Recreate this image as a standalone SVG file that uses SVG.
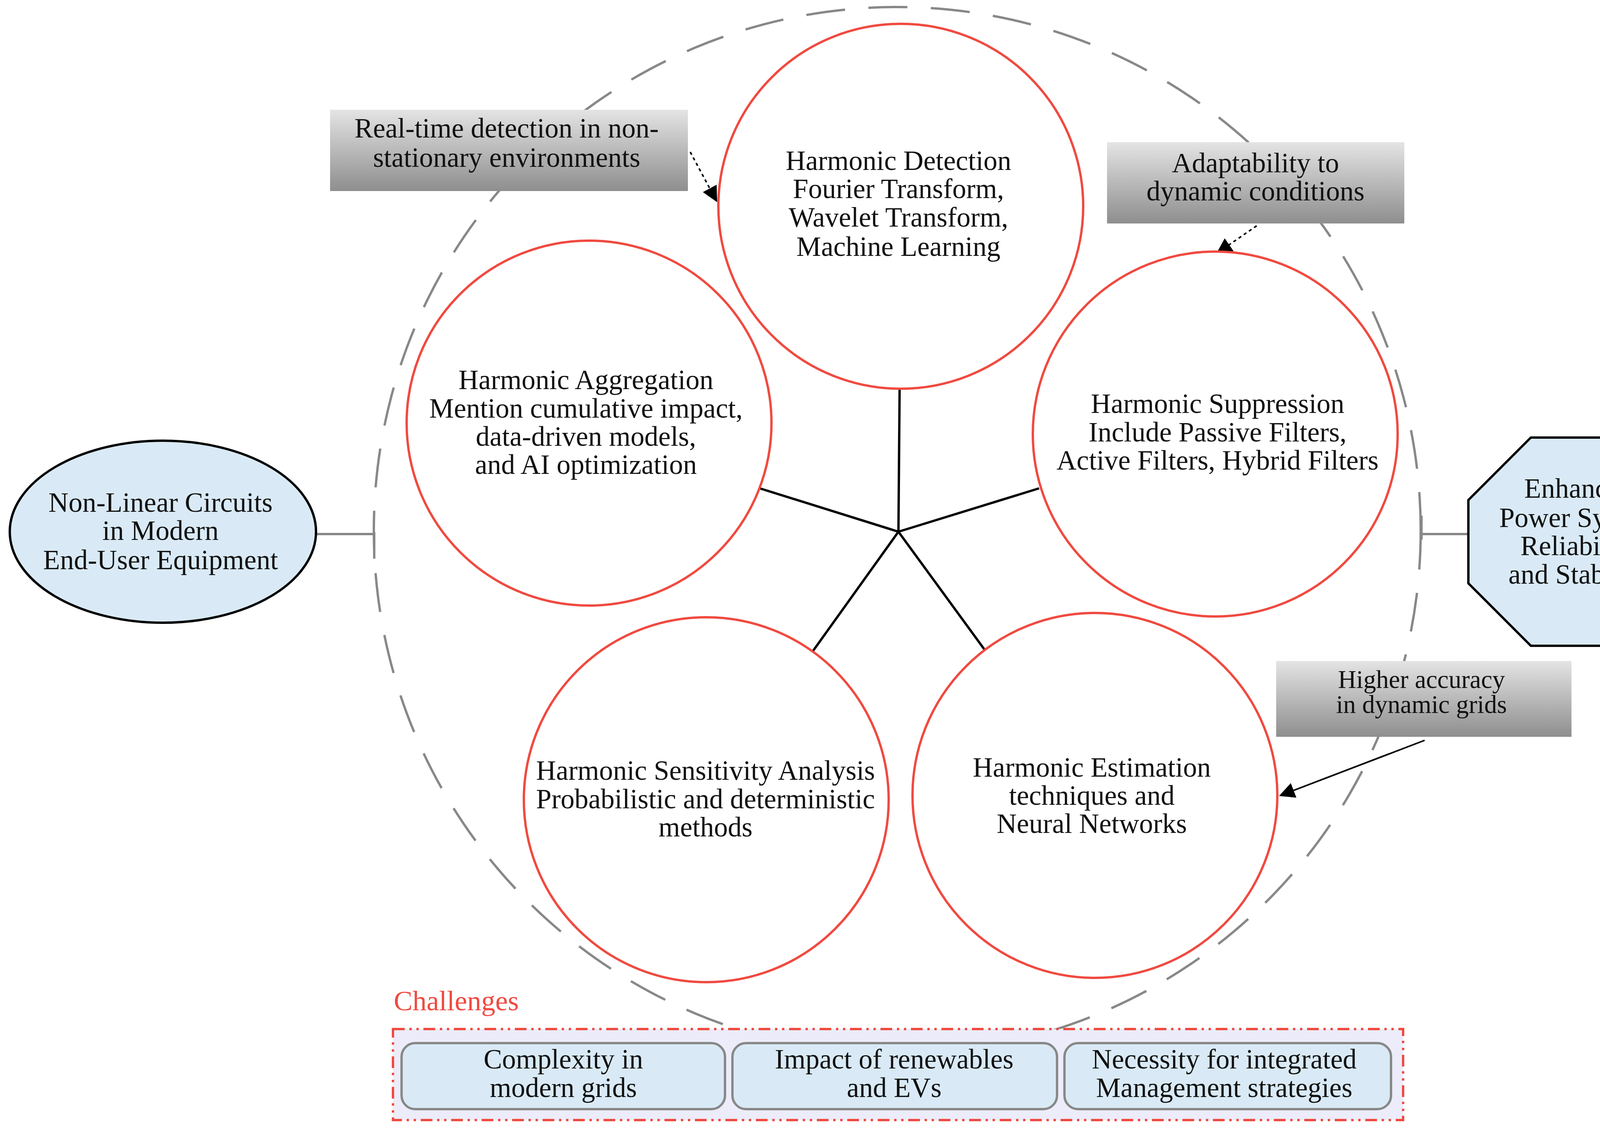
<svg xmlns="http://www.w3.org/2000/svg" width="4357" height="2895" viewBox="0 0 4357 2895">
<defs>
<linearGradient id="g" x1="0" y1="0" x2="0" y2="1"><stop offset="0" stop-color="#e4e4e4"/><stop offset="1" stop-color="#8e8e8e"/></linearGradient>
<marker id="ah" viewBox="0 0 10 10" refX="9" refY="5" markerWidth="45" markerHeight="40" orient="auto" markerUnits="userSpaceOnUse"><path d="M0,0 L10,5 L0,10 z" fill="#000"/></marker>
</defs>
<style>
text{font-family:"Liberation Serif","DejaVu Serif",serif;font-size:71px;fill:#111;text-anchor:middle;dominant-baseline:central}
.c{fill:#fff;stroke:#f04a40;stroke-width:6}
.gb{fill:url(#g)}
.blue{fill:#d9eaf6}
.cb{fill:#d9eaf6;stroke:#888;stroke-width:6}
</style>
<rect width="4357" height="2895" fill="#fff"/>
<circle cx="2297" cy="1358" r="1340" fill="none" stroke="#888" stroke-width="6" stroke-dasharray="100 60"/>
<g id="connectors" stroke="#000" stroke-width="6" fill="none">
<line x1="2300" y1="1361" x2="2303" y2="995"/>
<line x1="2300" y1="1361" x2="1945" y2="1250"/>
<line x1="2300" y1="1361" x2="2660" y2="1250"/>
<line x1="2300" y1="1361" x2="2080" y2="1668"/>
<line x1="2300" y1="1361" x2="2522" y2="1665"/>
<path d="M811,1367 H958 M958,1362 V1430" stroke="#888"/>
<path d="M3639,1367 H3759 M3639,1320 V1381" stroke="#888"/>
<line x1="1767" y1="389" x2="1834" y2="514" stroke-width="4" stroke-dasharray="8 8" marker-end="url(#ah)"/>
<line x1="3217" y1="578" x2="3117" y2="647" stroke-width="4" stroke-dasharray="8 8" marker-end="url(#ah)"/>
<line x1="3647" y1="1895" x2="3278" y2="2036" stroke-width="4" marker-end="url(#ah)"/>
</g>
<g id="detection"><circle class="c" cx="2306" cy="528" r="467"/><text x="2300" y="411">Harmonic Detection</text><text x="2300" y="483">Fourier Transform,</text><text x="2300" y="556">Wavelet Transform,</text><text x="2300" y="631">Machine Learning</text></g>
<g id="aggregation"><circle class="c" cx="1508" cy="1083" r="467"/><text x="1500" y="972">Harmonic Aggregation</text><text x="1500" y="1045">Mention cumulative impact,</text><text x="1500" y="1117">data-driven models,</text><text x="1500" y="1189">and AI optimization</text></g>
<g id="suppression"><circle class="c" cx="3111" cy="1111" r="467"/><text x="3117" y="1033">Harmonic Suppression</text><text x="3117" y="1106">Include Passive Filters,</text><text x="3117" y="1178">Active Filters, Hybrid Filters</text></g>
<g id="sensitivity"><circle class="c" cx="1808" cy="2047" r="467"/><text x="1806" y="1972">Harmonic Sensitivity Analysis</text><text x="1806" y="2045">Probabilistic and deterministic</text><text x="1806" y="2117">methods</text></g>
<g id="estimation"><circle class="c" cx="2803" cy="2036" r="467"/><text x="2795" y="1964">Harmonic Estimation</text><text x="2795" y="2036">techniques and</text><text x="2795" y="2108">Neural Networks</text></g>
<g id="nonlinear"><ellipse class="blue" cx="417" cy="1361" rx="392" ry="233" stroke="#000" stroke-width="6"/><text x="411" y="1286">Non-Linear Circuits</text><text x="411" y="1358">in Modern</text><text x="411" y="1433">End-User Equipment</text></g>
<g id="enhanced"><polygon class="blue" stroke="#000" stroke-width="6" points="3919,1120 4168,1120 4328,1280 4328,1493 4168,1653 3919,1653 3759,1493 3759,1280"/><text x="4042" y="1250">Enhanced</text><text x="4042" y="1325">Power System</text><text x="4042" y="1397">Reliability</text><text x="4042" y="1470">and Stability</text></g>
<g id="realtime"><rect class="gb" x="845" y="281" width="916" height="208"/><text x="1297" y="328">Real-time detection in non-</text><text x="1297" y="403">stationary environments</text></g>
<g id="adaptability"><rect class="gb" x="2834" y="364" width="761" height="208"/><text x="3214" y="417">Adaptability to</text><text x="3214" y="489">dynamic conditions</text></g>
<g id="accuracy"><rect class="gb" x="3267" y="1692" width="756" height="194"/><text x="3639" y="1739" style="font-size:65px">Higher  accuracy</text><text x="3639" y="1803" style="font-size:65px">in dynamic grids</text></g>
<g id="challenges">
<text x="1008" y="2562" style="fill:#f04a40;text-anchor:start;font-size:72px">Challenges</text>
<rect x="1006" y="2634" width="2586" height="233" fill="#ececfb" stroke="#f04a40" stroke-width="6" stroke-dasharray="30 12 6 12 6 12"/>
<rect class="cb" x="1028" y="2670" width="828" height="169" rx="35"/><text x="1442" y="2711">Complexity in</text><text x="1442" y="2784">modern grids</text>
<rect class="cb" x="1875" y="2670" width="831" height="169" rx="35"/><text x="2289" y="2711">Impact of renewables</text><text x="2289" y="2784">and EVs</text>
<rect class="cb" x="2725" y="2670" width="836" height="169" rx="35"/><text x="3134" y="2711">Necessity for integrated</text><text x="3134" y="2784">Management strategies</text>
</g>
</svg>
